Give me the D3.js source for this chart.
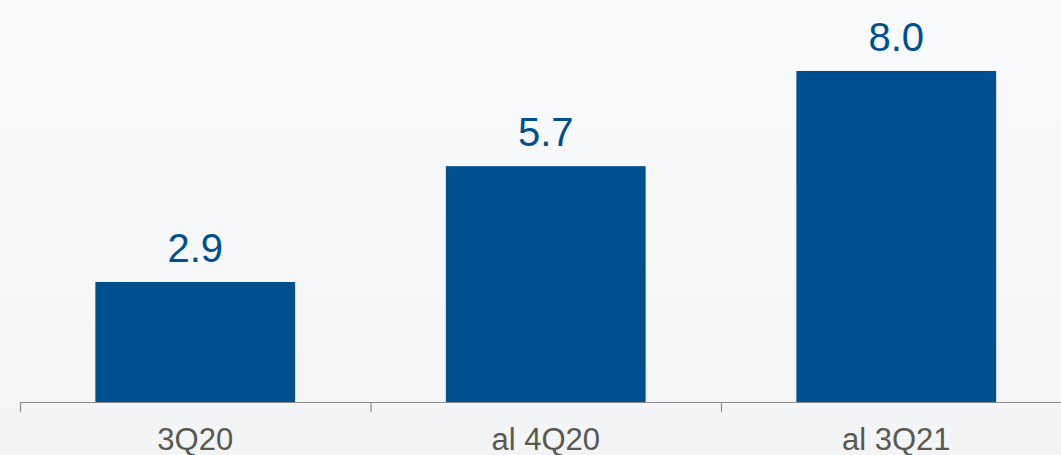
<!DOCTYPE html>
<html>
<head>
<meta charset="utf-8">
<script src="https://cdn.jsdelivr.net/npm/d3@7"></script>
<style>
  html, body { margin: 0; padding: 0; overflow: hidden; }
  svg { display: block; font-family: "Liberation Sans", Arial, sans-serif; }
</style>
</head>
<body>
<div id="contents"></div>
<script>
var categories = ["3Q20", "al 4Q20", "al 3Q21"];
var values = [2.9, 5.7, 8.0];
var valueLabels = ["2.9", "5.7", "8.0"];

var width = 1061, height = 455;
var baseY = 402;

var svg = d3.select("#contents")
  .append("svg")
  .attr("width", width)
  .attr("height", height);

var defs = svg.append("defs");
var grad = defs.append("linearGradient")
  .attr("id", "bg")
  .attr("x1", 0).attr("y1", 0).attr("x2", 0).attr("y2", 1);
grad.append("stop").attr("offset", "0%").attr("stop-color", "#f9fafc");
grad.append("stop").attr("offset", "100%").attr("stop-color", "#f2f4f6");

svg.append("rect")
  .attr("width", width)
  .attr("height", height)
  .attr("fill", "url(#bg)");

var x = d3.scaleBand()
  .domain(categories)
  .range([20, 1071.5])
  .paddingInner(0.43)
  .paddingOuter(0.215);

var y = d3.scaleLinear()
  .domain([0, 8])
  .range([baseY, 71]);

// bars
svg.selectAll(".bar")
  .data(values)
  .enter()
  .append("rect")
  .attr("class", "bar")
  .attr("x", function(d, i){ return x(categories[i]); })
  .attr("y", function(d){ return y(d); })
  .attr("width", x.bandwidth())
  .attr("height", function(d){ return baseY - y(d); })
  .attr("fill", "#00508f");

// value labels
svg.selectAll(".val")
  .data(values)
  .enter()
  .append("text")
  .attr("class", "val")
  .attr("x", function(d, i){ return x(categories[i]) + x.bandwidth() / 2; })
  .attr("y", function(d){ return y(d) - 20; })
  .attr("text-anchor", "middle")
  .attr("fill", "#00508f")
  .style("font-size", "40px")
  .text(function(d, i){ return valueLabels[i]; });

// axis line and ticks between categories
var step = x.step();
var tickXs = categories.map(function(c){ return x(c) - step * x.paddingInner() / 2; });
tickXs.push(tickXs[tickXs.length - 1] + step);

var axis = svg.append("g").attr("class", "axis");
axis.append("line")
  .attr("x1", tickXs[0]).attr("x2", width)
  .attr("y1", baseY + 0.5).attr("y2", baseY + 0.5)
  .attr("stroke", "#8c8c8c")
  .attr("stroke-width", 1.2);

axis.selectAll(".tick")
  .data(tickXs)
  .enter()
  .append("line")
  .attr("class", "tick")
  .attr("x1", function(d){ return d + 0.5; })
  .attr("x2", function(d){ return d + 0.5; })
  .attr("y1", baseY)
  .attr("y2", baseY + 10)
  .attr("stroke", "#8c8c8c")
  .attr("stroke-width", 1.2);

axis.selectAll(".cat")
  .data(categories)
  .enter()
  .append("text")
  .attr("class", "cat")
  .attr("x", function(d){ return x(d) + x.bandwidth() / 2; })
  .attr("y", 450)
  .attr("text-anchor", "middle")
  .attr("fill", "#595950")
  .style("font-size", "31px")
  .text(function(d){ return d; });
</script>
</body>
</html>
